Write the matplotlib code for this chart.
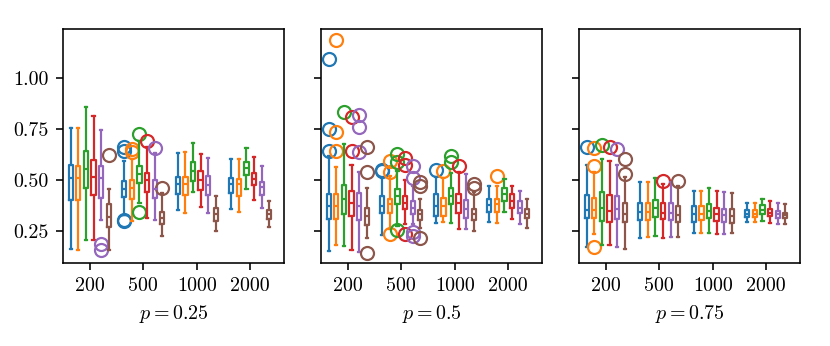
import matplotlib
matplotlib.use("Agg")
import matplotlib.pyplot as plt

plt.rcParams["font.family"] = "serif"
plt.rcParams["font.serif"] = ["cmr10", "DejaVu Serif"]
plt.rcParams["mathtext.fontset"] = "cm"
plt.rcParams["axes.formatter.use_mathtext"] = True
plt.rcParams["font.size"] = 10

# categories
GROUPS = ["200", "500", "1000", "2000"]
PANELS = ["$p = 0.25$", "$p = 0.5$", "$p = 0.75$"]
COLORS = ["#1f77b4", "#ff7f0e", "#2ca02c", "#d62728", "#9467bd", "#8c564b"]
YTICKS = [0.25, 0.50, 0.75, 1.00]

# ---- p = 0.25 : rows = groups, columns = six series ----
P25_LO = [[0.160, 0.157, 0.206, 0.206, 0.304, 0.155],
          [0.330, 0.299, 0.386, 0.312, 0.304, 0.225],
          [0.353, 0.340, 0.442, 0.368, 0.340, 0.250],
          [0.357, 0.345, 0.455, 0.401, 0.362, 0.271]]
P25_Q1 = [[0.402, 0.400, 0.463, 0.428, 0.412, 0.270],
          [0.417, 0.409, 0.485, 0.442, 0.412, 0.286],
          [0.429, 0.427, 0.496, 0.452, 0.426, 0.299],
          [0.434, 0.422, 0.525, 0.473, 0.428, 0.311]]
P25_MED = [[0.511, 0.511, 0.554, 0.513, 0.512, 0.319],
           [0.455, 0.460, 0.529, 0.499, 0.455, 0.316],
           [0.480, 0.478, 0.545, 0.499, 0.475, 0.332],
           [0.480, 0.480, 0.559, 0.504, 0.466, 0.332]]
P25_Q3 = [[0.572, 0.569, 0.641, 0.597, 0.569, 0.384],
          [0.496, 0.499, 0.570, 0.532, 0.499, 0.345],
          [0.516, 0.514, 0.590, 0.545, 0.521, 0.365],
          [0.508, 0.506, 0.590, 0.532, 0.492, 0.353]]
P25_HI = [[0.754, 0.754, 0.857, 0.813, 0.745, 0.455],
          [0.591, 0.603, 0.690, 0.660, 0.630, 0.435],
          [0.634, 0.639, 0.680, 0.627, 0.608, 0.419],
          [0.601, 0.601, 0.657, 0.611, 0.570, 0.398]]
P25_FLIERS = [[[], [], [], [], [0.188, 0.158], [0.624]],
              [[0.663, 0.640, 0.306, 0.299], [0.652, 0.635], [0.726, 0.343],
               [0.693], [0.655], [0.463]],
              [[], [], [], [], [], []],
              [[], [], [], [], [], []]]

# ---- p = 0.5 ----
P50_LO = [[0.152, 0.179, 0.176, 0.158, 0.147, 0.214],
          [0.230, 0.260, 0.275, 0.283, 0.283, 0.266],
          [0.288, 0.294, 0.291, 0.261, 0.261, 0.250],
          [0.294, 0.288, 0.345, 0.311, 0.283, 0.266]]
P50_Q1 = [[0.307, 0.307, 0.335, 0.324, 0.304, 0.278],
          [0.340, 0.340, 0.384, 0.357, 0.335, 0.306],
          [0.324, 0.324, 0.384, 0.340, 0.312, 0.304],
          [0.345, 0.345, 0.398, 0.362, 0.340, 0.316]]
P50_MED = [[0.373, 0.373, 0.406, 0.389, 0.373, 0.324],
           [0.373, 0.380, 0.419, 0.389, 0.365, 0.332],
           [0.373, 0.370, 0.422, 0.389, 0.357, 0.332],
           [0.376, 0.380, 0.430, 0.398, 0.365, 0.335]]
P50_Q3 = [[0.430, 0.430, 0.475, 0.447, 0.434, 0.365],
          [0.422, 0.409, 0.455, 0.419, 0.398, 0.355],
          [0.430, 0.414, 0.463, 0.430, 0.403, 0.357],
          [0.406, 0.406, 0.460, 0.430, 0.398, 0.360]]
P50_HI = [[0.616, 0.562, 0.677, 0.573, 0.540, 0.463],
          [0.512, 0.520, 0.542, 0.499, 0.471, 0.409],
          [0.515, 0.512, 0.532, 0.537, 0.529, 0.439],
          [0.471, 0.471, 0.504, 0.471, 0.444, 0.409]]
P50_FLIERS = [[[1.095, 0.750, 0.644], [1.185, 0.734, 0.644], [0.832],
               [0.808, 0.644], [0.819, 0.758, 0.639], [0.660, 0.540, 0.140]],
              [[0.550, 0.542], [0.594, 0.537, 0.234], [0.627, 0.590, 0.253],
               [0.606, 0.575, 0.234], [0.570, 0.512, 0.245, 0.225],
               [0.488, 0.471, 0.217]],
              [[0.550], [0.545], [0.619, 0.586], [0.567], [], [0.480, 0.463]],
              [[], [0.521], [], [], [], []]]

# ---- p = 0.75 ----
P75_LO = [[0.173, 0.237, 0.181, 0.181, 0.171, 0.160],
          [0.217, 0.220, 0.225, 0.217, 0.220, 0.220],
          [0.242, 0.242, 0.242, 0.237, 0.237, 0.239],
          [0.294, 0.294, 0.299, 0.291, 0.286, 0.283]]
P75_Q1 = [[0.312, 0.316, 0.299, 0.296, 0.307, 0.294],
          [0.302, 0.302, 0.319, 0.307, 0.302, 0.294],
          [0.296, 0.304, 0.312, 0.299, 0.296, 0.291],
          [0.319, 0.319, 0.335, 0.321, 0.312, 0.312]]
P75_MED = [[0.352, 0.352, 0.365, 0.348, 0.357, 0.335],
           [0.345, 0.345, 0.362, 0.340, 0.340, 0.329],
           [0.332, 0.335, 0.348, 0.335, 0.329, 0.324],
           [0.335, 0.335, 0.355, 0.340, 0.332, 0.329]]
P75_Q3 = [[0.427, 0.414, 0.439, 0.427, 0.422, 0.386],
          [0.385, 0.388, 0.401, 0.385, 0.385, 0.370],
          [0.370, 0.373, 0.380, 0.365, 0.360, 0.357],
          [0.355, 0.355, 0.376, 0.360, 0.348, 0.340]]
P75_HI = [[0.573, 0.537, 0.603, 0.591, 0.573, 0.516],
          [0.491, 0.491, 0.509, 0.480, 0.491, 0.471],
          [0.447, 0.447, 0.463, 0.447, 0.439, 0.435],
          [0.389, 0.389, 0.409, 0.398, 0.389, 0.381]]
P75_FLIERS = [[[0.660], [0.655, 0.570, 0.173], [0.673], [0.660], [0.652], [0.601, 0.529]],
              [[], [], [], [0.496], [], [0.493]],
              [[], [], [], [], [], []],
              [[], [], [], [], [], []]]

PANEL_DATA = [
    (P25_LO, P25_Q1, P25_MED, P25_Q3, P25_HI, P25_FLIERS),
    (P50_LO, P50_Q1, P50_MED, P50_Q3, P50_HI, P50_FLIERS),
    (P75_LO, P75_Q1, P75_MED, P75_Q3, P75_HI, P75_FLIERS),
]

DPI = 144
fig = plt.figure(figsize=(830 / DPI, 346 / DPI), dpi=DPI)
lefts = [63, 321, 579]
axw, top, bot = 221, 29, 263
axes = []
for k in range(3):
    rect = [lefts[k] / 830, 1 - bot / 346, axw / 830, (bot - top) / 346]
    ax = fig.add_axes(rect, sharey=axes[0] if axes else None)
    axes.append(ax)

step = 0.142
width = 0.08
lw = 1.1
for k, ax in enumerate(axes):
    lo, q1, med, q3, hi, fl = PANEL_DATA[k]
    for g in range(len(GROUPS)):
        for s in range(6):
            c = COLORS[s]
            st = dict(whislo=lo[g][s], q1=q1[g][s], med=med[g][s],
                      q3=q3[g][s], whishi=hi[g][s], fliers=fl[g][s])
            ax.bxp([st], positions=[g + (s - 2.5) * step], widths=width,
                   boxprops=dict(color=c, linewidth=lw),
                   whiskerprops=dict(color=c, linewidth=lw),
                   capprops=dict(color=c, linewidth=lw),
                   medianprops=dict(color=c, linewidth=lw),
                   flierprops=dict(marker="o", markerfacecolor="none",
                                   markeredgecolor=c, markersize=6.5,
                                   markeredgewidth=lw),
                   manage_ticks=False)
    ax.set_xticks(range(len(GROUPS)))
    ax.set_xticklabels(GROUPS)
    ax.set_xlim(-0.5, 3.63)
    ax.set_xlabel(PANELS[k])
    if k > 0:
        ax.tick_params(labelleft=False)

axes[0].set_ylim(0.093, 1.24)
axes[0].set_yticks(YTICKS)
axes[0].set_yticklabels([f"{v:.2f}" for v in YTICKS])

fig.savefig("out.png", dpi=DPI)
